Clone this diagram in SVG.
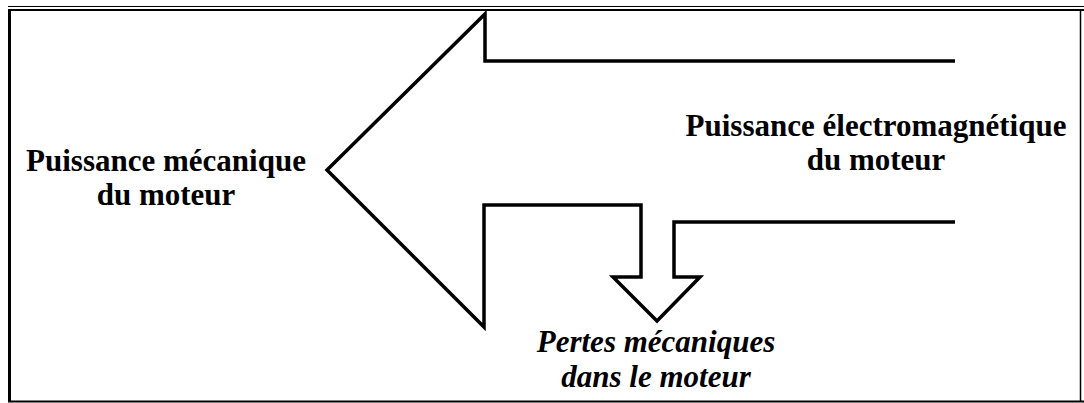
<svg xmlns="http://www.w3.org/2000/svg" width="1084" height="403" viewBox="0 0 1084 403">
<style>
.lbl{font-family:"Liberation Serif","Times New Roman",serif;font-size:31px;font-weight:bold;fill:#000;text-anchor:middle}
.it{font-style:italic}
.frame{stroke:#000;fill:none}
.arrow{stroke:#000;stroke-width:3.5;fill:none;stroke-linejoin:miter;stroke-linecap:butt}
</style>
<rect width="1084" height="403" fill="#fff"/>
<g id="frame">
<line class="frame" x1="8" y1="6.5" x2="1084" y2="6.5" stroke-width="1.2"/>
<line class="frame" x1="8" y1="10" x2="1084" y2="10" stroke-width="2.2"/>
<line class="frame" x1="9.5" y1="9" x2="9.5" y2="402" stroke-width="3"/>
<line class="frame" x1="1080.5" y1="10" x2="1080.5" y2="402" stroke-width="1.5"/>
<line class="frame" x1="8" y1="401.5" x2="1084" y2="401.5" stroke-width="2"/>
</g>
<g id="connectors">
<polyline class="arrow" points="955,61 485,61 485,14 327,170 484,327 484,205 641,205 641,277 613,277 657,321 700,277 674,277 674,222 955,222"/>
</g>
<g id="node-mecanique">
<text class="lbl" x="166" y="171">Puissance mécanique</text>
<text class="lbl" x="166" y="205">du moteur</text>
</g>
<g id="node-electromagnetique">
<text class="lbl" x="876" y="136">Puissance électromagnétique</text>
<text class="lbl" x="876" y="170">du moteur</text>
</g>
<g id="node-pertes">
<text class="lbl it" x="656" y="352">Pertes mécaniques</text>
<text class="lbl it" x="656" y="387">dans le moteur</text>
</g>
</svg>
